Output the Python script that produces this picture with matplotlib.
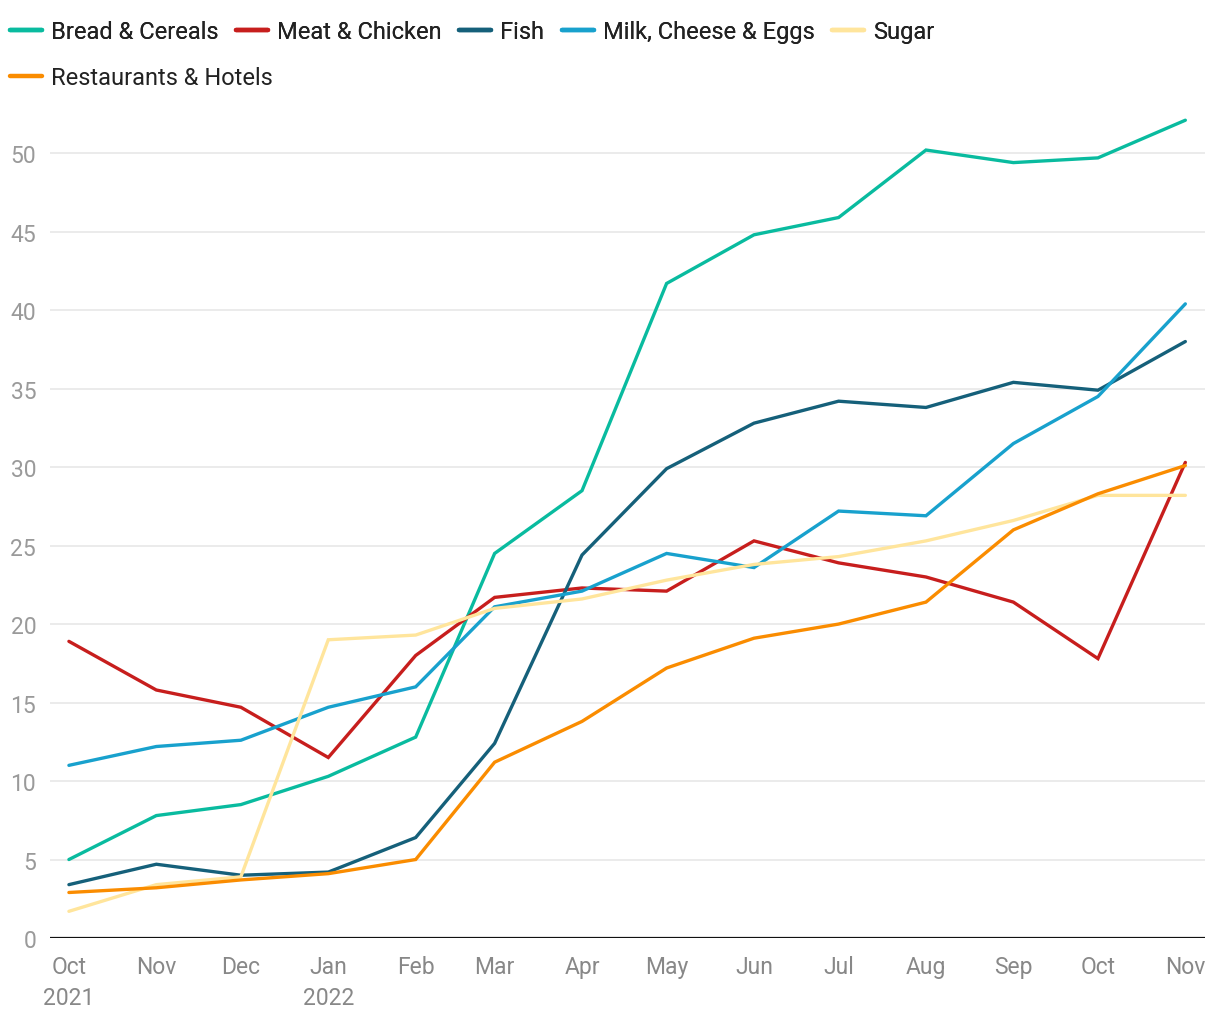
import numpy as np
import pandas as pd
import matplotlib.pyplot as plt
from matplotlib.lines import Line2D

plt.rcParams['font.family'] = ['Roboto', 'DejaVu Sans']

dates = pd.date_range("2021-10-01", "2022-11-01", freq="MS")
months = ["Oct\n2021", "Nov", "Dec", "Jan\n2022", "Feb", "Mar", "Apr",
          "May", "Jun", "Jul", "Aug", "Sep", "Oct", "Nov"]

bread = [5.0, 7.8, 8.5, 10.3, 12.8, 24.5, 28.5, 41.7, 44.8, 45.9, 50.2, 49.4, 49.7, 52.1]
meat = [18.9, 15.8, 14.7, 11.5, 18.0, 21.7, 22.3, 22.1, 25.3, 23.9, 23.0, 21.4, 17.8, 30.3]
fish = [3.4, 4.7, 4.0, 4.2, 6.4, 12.4, 24.4, 29.9, 32.8, 34.2, 33.8, 35.4, 34.9, 38.0]
milk = [11.0, 12.2, 12.6, 14.7, 16.0, 21.1, 22.1, 24.5, 23.6, 27.2, 26.9, 31.5, 34.5, 40.4]
sugar = [1.7, 3.4, 3.9, 19.0, 19.3, 21.0, 21.6, 22.8, 23.8, 24.3, 25.3, 26.6, 28.2, 28.2]
restaurants = [2.9, 3.2, 3.7, 4.1, 5.0, 11.2, 13.8, 17.2, 19.1, 20.0, 21.4, 26.0, 28.3, 30.1]

names = ["Bread & Cereals", "Meat & Chicken", "Fish", "Milk, Cheese & Eggs",
         "Sugar", "Restaurants & Hotels"]
colors = ["#09bb9f", "#c71e1d", "#15607a", "#18a1cd", "#ffe59c", "#fa8c00"]
series = [bread, meat, fish, milk, sugar, restaurants]

fig = plt.figure(figsize=(12.2, 10.2), dpi=100)
ax = fig.add_axes([0.041, 0.0794, 0.947, 0.831])

# draw order, bottom to top
for i in [4, 5, 3, 2, 0, 1]:
    ax.plot(dates, series[i], color=colors[i], lw=2.4, solid_capstyle='round',
            solid_joinstyle='miter', zorder=3 + i * 0.1)

ax.set_xlim(dates[0] - pd.Timedelta(days=6.7), dates[-1] + pd.Timedelta(days=7.1))
ax.set_ylim(0, 54)
ax.set_yticks(range(0, 55, 5))
ax.set_xticks(dates)
ax.set_xticklabels(months, linespacing=1.48)
ax.grid(axis='y', color='#e5e5e5', lw=1.1, zorder=0)
ax.axhline(0, color='#111111', lw=1.6, zorder=4)
for s in ax.spines.values():
    s.set_visible(False)
ax.tick_params(axis='y', length=0, pad=10, labelsize=16.5, labelcolor='#9a9a9a')
ax.tick_params(axis='x', length=0, pad=12, labelsize=16.5, labelcolor='#888888')
for lab in ax.get_yticklabels():
    lab.set_horizontalalignment('right')

handles = [Line2D([], [], color=c, lw=3.2, solid_capstyle='round') for c in colors]
leg_kw = dict(frameon=False, fontsize=17, handlelength=1.36, handletextpad=0.38,
              borderpad=0, borderaxespad=0)
leg1 = fig.legend(handles[:5], names[:5], loc='center left', bbox_to_anchor=(0.008, 0.968),
                  ncol=5, columnspacing=0.74, **leg_kw)
for t in leg1.get_texts():
    t.set_color('#222222')
leg2 = fig.legend(handles[5:], names[5:], loc='center left', bbox_to_anchor=(0.008, 0.923),
                  **leg_kw)
for t in leg2.get_texts():
    t.set_color('#222222')
fig.add_artist(leg1)

fig.savefig("out.png", dpi=100, facecolor='white')
